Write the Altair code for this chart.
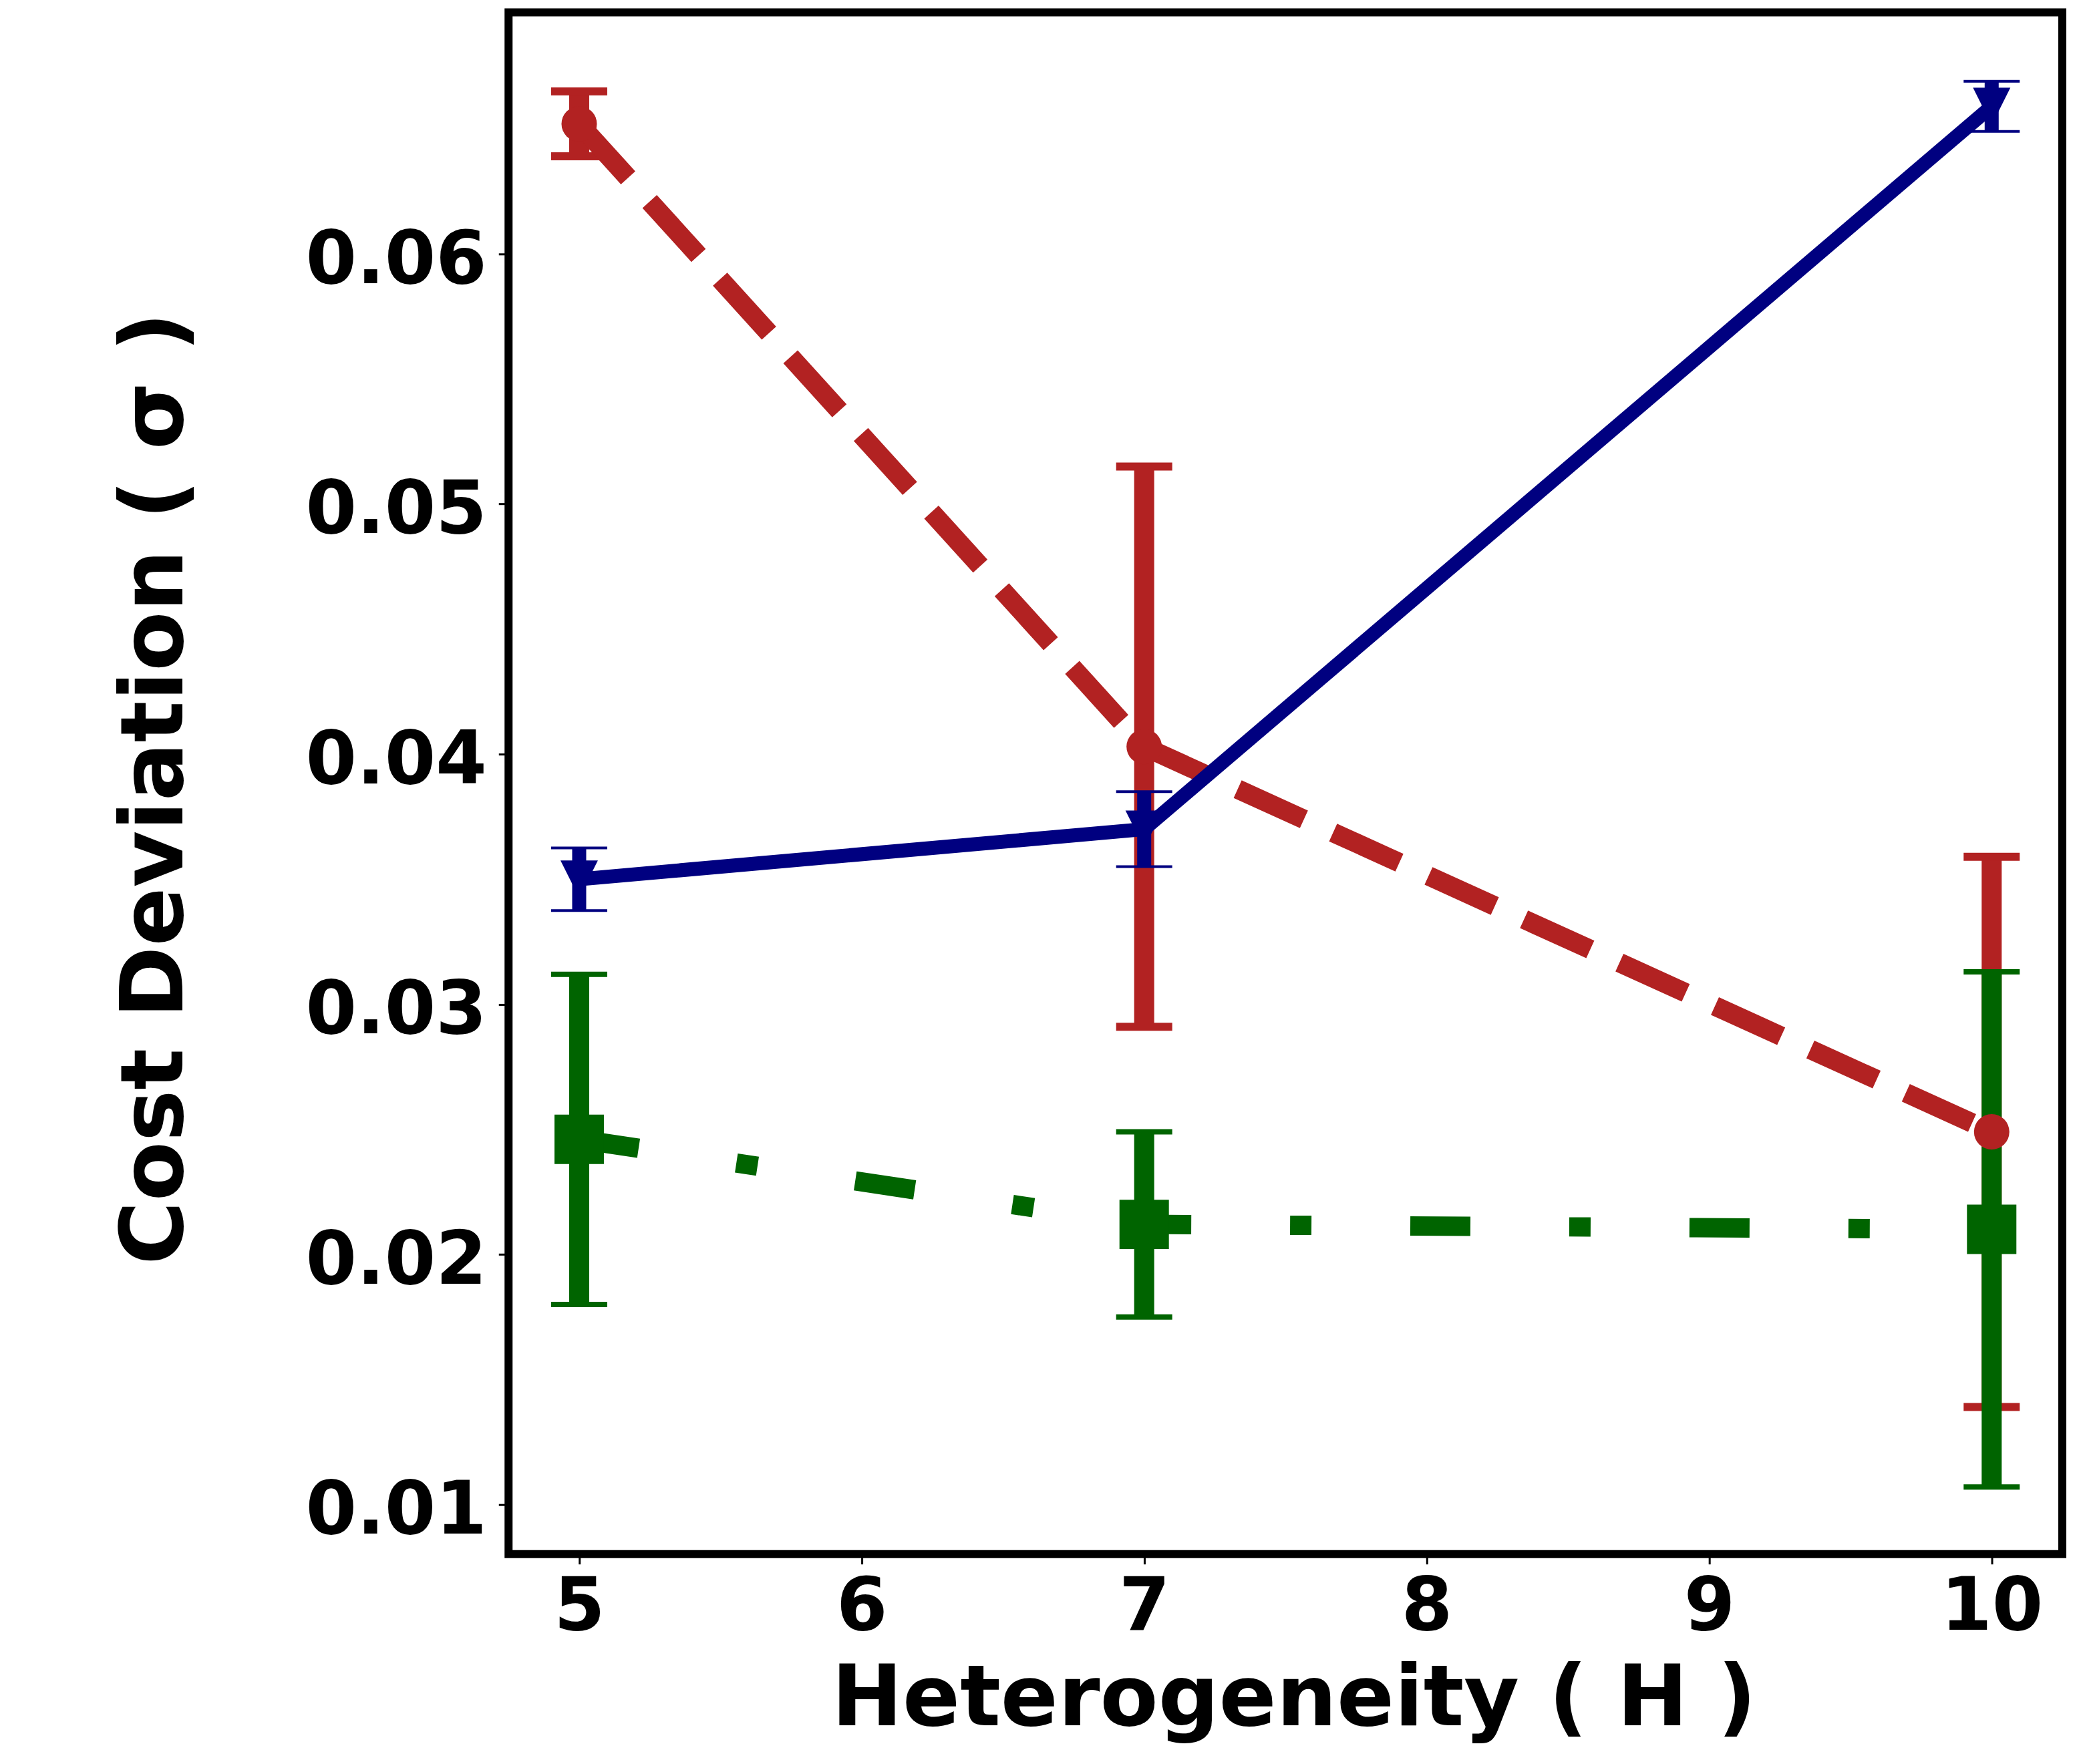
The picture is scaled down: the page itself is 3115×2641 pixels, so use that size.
import altair as alt
import pandas as pd

# ---- data ----
H = [5, 7, 10]

red_mean = [0.0652, 0.0403, 0.0249]
red_err = [0.0013, 0.0112, 0.0110]

blue_mean = [0.0350, 0.0370, 0.0659]
blue_err = [0.00125, 0.0015, 0.0010]

green_mean = [0.0246, 0.0212, 0.0210]
green_err = [0.0066, 0.0037, 0.0103]

x_ticks = [5, 6, 7, 8, 9, 10]
y_ticks = [0.01, 0.02, 0.03, 0.04, 0.05, 0.06]

X_DOMAIN = [4.75, 10.25]
Y_DOMAIN = [0.00802, 0.06966]

FONT = "DejaVu Sans"

series = [
    dict(name="red", mean=red_mean, err=red_err, color="#B22222", lw=29,
         dash=[109, 48], stem=30, cap=12, shape="circle", size=2809),
    dict(name="blue", mean=blue_mean, err=blue_err, color="#000080", lw=21,
         dash=None, stem=21, cap=4, shape="M-1,-1L1,-1L0,1Z", size=3136),
    dict(name="green", mean=green_mean, err=green_err, color="#006400", lw=29,
         dash=[90, 148, 32, 148], stem=30, cap=8, shape="square", size=5476),
]

xscale = alt.Scale(domain=X_DOMAIN, nice=False, zero=False)
yscale = alt.Scale(domain=Y_DOMAIN, nice=False, zero=False)

xaxis = alt.Axis(values=x_ticks, format="d", title="Heterogeneity ( H )",
                 labelPadding=11, titleX=1175.5, titleY=256, titleFontSize=127,
                 titleBaseline="alphabetic", titleAlign="center")
yaxis = alt.Axis(values=y_ticks, format=".2f", title="Cost Deviation ( σ )",
                 labelPadding=18, labelOffset=10, titleX=-488.5, titleY=1162,
                 titleAngle=270, titleBaseline="alphabetic", titleAlign="center")


def frame(s):
    return pd.DataFrame({
        "x": H,
        "mean": s["mean"],
        "lo": [m - e for m, e in zip(s["mean"], s["err"])],
        "hi": [m + e for m, e in zip(s["mean"], s["err"])],
    })


def caps(s):
    d = frame(s)
    return pd.DataFrame({"x": list(d["x"]) * 2, "cap": list(d["lo"]) + list(d["hi"])})


bar_layers, line_layers, point_layers = [], [], []
for s in series:
    d = frame(s)
    stems = alt.Chart(d).mark_rule(color=s["color"], strokeWidth=s["stem"],
                                   strokeCap="butt").encode(
        x=alt.X("x:Q", scale=xscale, axis=xaxis),
        y=alt.Y("lo:Q", scale=yscale, axis=yaxis),
        y2="hi:Q",
    )
    capm = alt.Chart(caps(s)).mark_tick(color=s["color"], orient="horizontal",
                                        size=84, thickness=s["cap"], opacity=1).encode(
        x=alt.X("x:Q", scale=xscale, axis=xaxis),
        y=alt.Y("cap:Q", scale=yscale, axis=yaxis),
    )
    bar_layers += [stems, capm]

    lkw = dict(color=s["color"], strokeWidth=s["lw"], strokeCap="butt")
    if s["dash"]:
        lkw["strokeDash"] = s["dash"]
    line = alt.Chart(d).mark_line(**lkw).encode(
        x=alt.X("x:Q", scale=xscale, axis=xaxis),
        y=alt.Y("mean:Q", scale=yscale, axis=yaxis),
    )
    line_layers.append(line)

    pts = alt.Chart(d).mark_point(shape=s["shape"], filled=True, size=s["size"],
                                  color=s["color"], opacity=1, strokeWidth=0).encode(
        x=alt.X("x:Q", scale=xscale, axis=xaxis),
        y=alt.Y("mean:Q", scale=yscale, axis=yaxis),
    )
    point_layers.append(pts)

chart = alt.layer(*(bar_layers + line_layers + point_layers)).properties(
    width=2326.5,
    height=2309,
    padding={"left": 753.5, "top": 10, "right": 20, "bottom": 300},
    autosize="none",
    background="white",
).configure_view(
    stroke="black", strokeWidth=12, fill="white"
).configure_axis(
    domain=False, grid=False,
    tickColor="black", tickWidth=3, tickSize=15,
    labelFont=FONT, labelFontWeight="bold", labelFontSize=110, labelColor="black",
    titleFont=FONT, titleFontWeight="bold", titleFontSize=130, titleColor="black",
    labelFlush=False, labelOverlap=False, labelLimit=2000, titleLimit=4000,
)

chart.save("out.html", embed_options={"renderer": "svg", "actions": False})
